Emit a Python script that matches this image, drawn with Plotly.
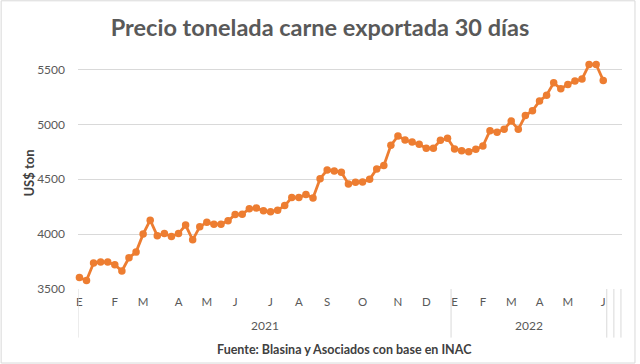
import plotly.graph_objects as go

title_text = "Precio tonelada carne exportada 30 días"
y_title = "US$ ton"
source_text = "Fuente: Blasina y Asociados con base en INAC"

# Weekly export price (US$/ton)
prices = [3605, 3578, 3736, 3745, 3745, 3721, 3664, 3785, 3836, 4000,
          4127, 3985, 4005, 3978, 4005, 4082, 3948, 4066, 4109, 4091,
          4091, 4121, 4178, 4182, 4230, 4239, 4212, 4203, 4218, 4260,
          4333, 4333, 4360, 4330, 4505, 4584, 4575, 4564, 4457, 4473,
          4475, 4500, 4594, 4624, 4809, 4894, 4857, 4839, 4818, 4782,
          4783, 4854, 4873, 4775, 4760, 4751, 4773, 4803, 4942, 4927,
          4955, 5030, 4955, 5080, 5124, 5212, 5266, 5378, 5324, 5364,
          5394, 5412, 5545, 5545, 5400]

month_labels = ["E", "F", "M", "A", "M", "J", "J", "A", "S", "O", "N", "D",
                "E", "F", "M", "A", "M", "J"]
weeks_per_month = [5, 4, 5, 4, 4, 5, 4, 4, 5, 5, 4, 4,
                   4, 4, 4, 4, 5, 1]
years = ["2021", "2022"]
months_per_year = [12, 6]
empty_slots = 2

y_ticks = [3500, 4000, 4500, 5000, 5500]

# derived category structure
x = list(range(len(prices)))
tick_pos = []
acc = 0
for w in weeks_per_month:
    tick_pos.append(acc)
    acc += w
year_start = []
year_end = []
m = 0
for cnt in months_per_year:
    s = tick_pos[m]
    e = tick_pos[m + cnt - 1] + weeks_per_month[m + cnt - 1] - 1
    year_start.append(s)
    year_end.append(e)
    m += cnt

orange = "#ED7D31"
grey = "#595959"
dark = "#404040"
grid = "#D9D9D9"
font_fam = "Lato, 'Open Sans', sans-serif"

W, H = 640, 364
ML, MR, MT, MB = 77.5, 17.5, 52.8, 74.7
PW, PH = W - ML - MR, H - MT - MB


def px_x(px):
    return (px - ML) / PW


def px_y(py):
    return (H - MB - py) / PH


fig = go.Figure()
fig.add_trace(go.Scatter(
    x=x, y=prices, mode="lines+markers",
    line=dict(color=orange, width=2.8),
    marker=dict(color=orange, size=7.5),
    cliponaxis=False,
    hoverinfo="x+y", showlegend=False,
))

n = len(prices)
x_lo = -0.2
shapes = []
sep_y1 = px_y(338)
bounds = [x_lo] + [e + 0.5 for e in year_end]
for k in range(1, empty_slots + 1):
    bounds.append(n - 0.5 + k)
for b in bounds:
    shapes.append(dict(type="line", xref="x", yref="paper", x0=b, x1=b,
                       y0=0, y1=sep_y1, line=dict(color=grid, width=1)))
# outer chart border
shapes.append(dict(type="rect", xref="paper", yref="paper",
                   x0=px_x(0.5), x1=px_x(635.5), y0=px_y(363.5), y1=px_y(0.5),
                   line=dict(color=grid, width=1), layer="below"))

annotations = []
for i, (yr, s, e) in enumerate(zip(years, year_start, year_end)):
    left = (x_lo if i == 0 else s - 0.5)
    annotations.append(dict(x=(left + e + 0.5) / 2, y=px_y(326), xref="x", yref="paper",
                            text=yr, showarrow=False, yanchor="middle",
                            font=dict(size=12, color=grey, family=font_fam)))
annotations.append(dict(x=px_x(344), y=px_y(350), xref="paper", yref="paper",
                        text=source_text, showarrow=False, yanchor="middle",
                        font=dict(size=12.5, color=dark, family=font_fam, weight="bold")))
annotations.append(dict(x=px_x(28), y=px_y(173), xref="paper", yref="paper",
                        text=y_title, showarrow=False, textangle=-90,
                        xanchor="center", yanchor="middle",
                        font=dict(size=13, color=dark, family=font_fam, weight="bold")))

fig.update_layout(
    width=W, height=H,
    margin=dict(l=ML, r=MR, t=MT, b=MB, autoexpand=False),
    paper_bgcolor="white", plot_bgcolor="white",
    title=dict(text=title_text, x=0.5, xanchor="center", y=1 - 28 / H, yanchor="middle",
               font=dict(size=23.5, color=grey, family=font_fam, weight="bold")),
    font=dict(family=font_fam, color=grey),
    shapes=shapes, annotations=annotations,
)

fig.update_xaxes(
    range=[x_lo, n + empty_slots - 0.35],
    tickmode="array", tickvals=tick_pos, ticktext=month_labels,
    tickfont=dict(size=11.5, color=grey, family=font_fam),
    showgrid=False, zeroline=False, showline=False, ticks="",
    ticklabelstandoff=4, tickangle=0, automargin=False,
)
fig.update_yaxes(
    range=[3500, 5650],
    tickmode="array", tickvals=y_ticks, ticktext=[str(v) for v in y_ticks],
    tickfont=dict(size=12, color=grey, family=font_fam),
    showgrid=True, gridcolor=grid, gridwidth=1, zeroline=False,
    showline=False, ticks="", ticklabelstandoff=12, automargin=False,
)

fig.write_html("out.html",
               config={"displayModeBar": False},
               post_script="document.body.style.margin='0';document.body.style.overflow='hidden';")
